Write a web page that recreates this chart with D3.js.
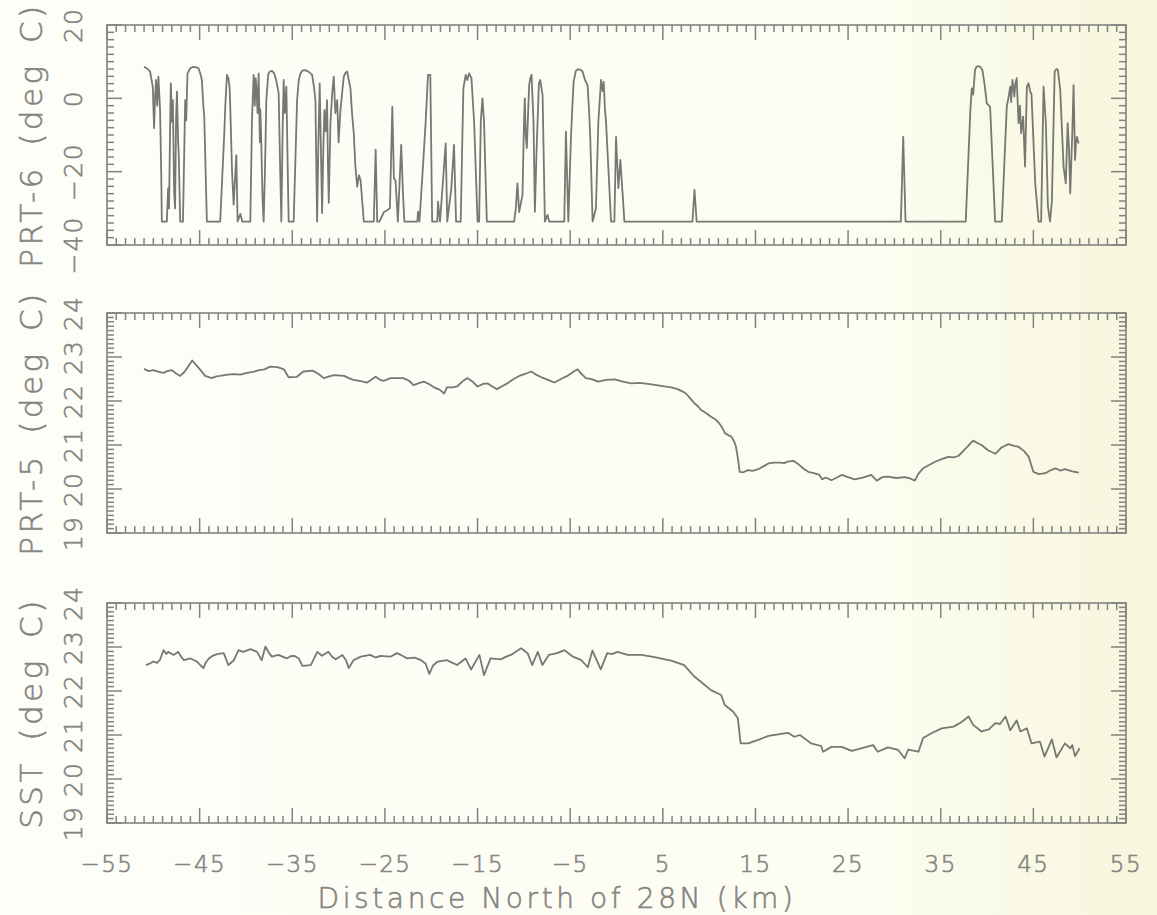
<!DOCTYPE html>
<html>
<head>
<meta charset="utf-8">
<script src="https://cdn.jsdelivr.net/npm/d3@7"></script>
<style>
  html, body { margin: 0; padding: 0; background: #fdfdf5; }
  svg { display: block; }
  text { font-family: "DejaVu Sans", sans-serif; font-weight: 200; fill: #858581;
         stroke: #858581; stroke-width: 0.6px; }
</style>
</head>
<body>
<svg id="chart" width="1157" height="915"></svg>
<script>
// distance axis, km north of 28N
const xMajorTicks = [-55, -45, -35, -25, -15, -5, 5, 15, 25, 35, 45, 55]
const xTickLabels = ['−55', '−45', '−35', '−25', '−15', '−5', '5', '15', '25', '35', '45', '55']

// PRT-6 radiometer (sky), deg C, [km, value]
const prt6 = [
  [-51.0, 8.6], [-50.6, 8.0], [-50.35, 7.3], [-50.06, 3.2], [-49.92, -8.1], [-49.8, 1.0], [-49.7, 5.0],
  [-49.58, -2.0], [-49.45, 5.9], [-49.27, -3.2], [-49.15, -20.0], [-49.08, -33.6], [-48.54, -33.6],
  [-48.4, -24.5], [-48.3, -30.0], [-48.2, -10.0], [-48.11, 4.1], [-47.98, -6.4], [-47.89, -0.5],
  [-47.75, -25.8], [-47.65, -30.0], [-47.54, -5.0], [-47.45, 1.8], [-47.32, -12.0], [-47.25, -15.5],
  [-47.1, -33.6], [-46.8, -33.6], [-46.56, -0.5], [-46.45, -6.0], [-46.31, 6.8], [-46.02, 8.2],
  [-45.8, 8.5], [-45.4, 8.5], [-45.12, 8.2], [-44.9, 6.5], [-44.76, 5.0], [-44.6, -2.0], [-44.5, -5.0],
  [-44.22, -33.6], [-42.78, -33.6], [-42.34, -9.5], [-42.23, -2.0], [-42.05, 6.4], [-41.9, 5.5],
  [-41.77, 3.2], [-41.7, -1.8], [-41.5, -20.0], [-41.33, -29.0], [-41.04, -15.5], [-40.9, -33.6],
  [-40.6, -31.5], [-40.4, -33.6], [-39.53, -33.6], [-39.35, -6.0], [-39.17, 6.4], [-39.05, -2.0],
  [-38.95, 5.5], [-38.88, 3.2], [-38.75, -4.0], [-38.63, 6.8], [-38.5, -12.0], [-38.45, -3.0],
  [-38.37, -9.5], [-38.2, -28.0], [-38.09, -33.6], [-37.95, -20.0], [-37.8, -0.5], [-37.6, 6.5],
  [-37.44, 7.3], [-37.2, 7.5], [-36.94, 6.8], [-36.7, 4.5], [-36.47, 1.4], [-36.3, -20.0],
  [-36.18, -33.6], [-36.05, -10.0], [-35.93, 5.0], [-35.8, -4.0], [-35.64, 3.2], [-35.5, -18.0],
  [-35.39, -33.6], [-34.85, -33.6], [-34.48, -0.5], [-34.3, 5.0], [-34.12, 6.8], [-33.9, 7.6],
  [-33.58, 7.7], [-33.2, 7.2], [-32.86, 6.4], [-32.65, 3.0], [-32.5, -0.5], [-32.32, -33.6],
  [-32.18, -12.0], [-32.04, 4.1], [-31.9, -15.0], [-31.78, -31.3], [-31.65, -14.0], [-31.53, -3.2],
  [-31.4, -9.0], [-31.24, -0.5], [-31.15, -18.0], [-31.06, -28.5], [-30.88, -6.8], [-30.7, 1.0],
  [-30.52, 5.9], [-30.35, -4.0], [-30.15, -0.5], [-30.0, -12.0], [-29.8, -3.2], [-29.6, 2.0],
  [-29.44, 5.9], [-29.25, 7.0], [-29.07, 7.3], [-28.9, 5.0], [-28.72, 2.7], [-28.55, -4.0],
  [-28.36, -9.5], [-28.2, -18.0], [-27.99, -24.1], [-27.8, -21.0], [-27.63, -22.3], [-27.45, -28.0],
  [-27.28, -33.6], [-26.2, -33.6], [-26.0, -14.0], [-25.83, -33.6], [-25.6, -33.6], [-25.1, -31.0],
  [-24.75, -30.5], [-24.46, -30.0], [-24.2, -2.3], [-24.03, -21.8], [-23.85, -22.5], [-23.6, -33.6],
  [-23.24, -12.7], [-23.05, -26.0], [-22.9, -33.6], [-21.5, -33.6], [-21.42, -30.9], [-21.27, -33.6],
  [-20.86, -17.3], [-20.6, -6.4], [-20.35, 6.4], [-20.1, 6.4], [-19.9, -33.6], [-19.34, -33.6],
  [-19.27, -28.2], [-19.05, -33.6], [-18.44, -12.3], [-18.27, -33.6], [-17.83, -24.5], [-17.54, -12.7],
  [-17.32, -33.6], [-16.82, -33.6], [-16.53, 2.7], [-16.28, 6.4], [-16.1, 5.0], [-15.92, 6.8],
  [-15.66, 5.5], [-15.37, -6.4], [-15.0, -33.6], [-14.83, -33.6], [-14.65, -6.4], [-14.47, 0.0],
  [-14.3, -6.4], [-14.0, -33.6], [-11.05, -33.6], [-10.87, -30.0], [-10.69, -23.2], [-10.51, -31.0],
  [-10.15, -26.4], [-10.0, -8.0], [-9.9, 0.0], [-9.8, -10.0], [-9.68, -13.6], [-9.43, 3.6],
  [-9.3, 5.5], [-9.17, 6.4], [-8.96, -6.4], [-8.81, -30.9], [-8.65, -16.0], [-8.52, -6.4],
  [-8.38, 4.0], [-8.23, 5.0], [-7.98, 0.9], [-7.73, -33.6], [-7.45, -31.8], [-7.27, -33.6],
  [-5.64, -33.6], [-5.46, -9.1], [-5.2, -33.6], [-4.92, -10.9], [-4.8, -4.0], [-4.63, 4.5],
  [-4.4, 7.4], [-4.2, 7.9], [-3.9, 7.8], [-3.66, 7.3], [-3.4, 5.0], [-3.12, 3.6], [-2.95, -4.0],
  [-2.83, -10.9], [-2.58, -33.6], [-2.22, -30.0], [-1.96, -6.4], [-1.67, 5.0], [-1.5, 2.0],
  [-1.38, 4.5], [-1.25, -3.0], [-1.13, -6.4], [-0.95, -15.5], [-0.59, -33.6], [-0.23, -33.6],
  [-0.05, -10.5], [0.2, -24.5], [0.42, -16.8], [0.55, -22.0], [0.67, -26.4], [0.85, -33.6],
  [8.2, -33.6], [8.42, -25.0], [8.65, -33.6], [30.7, -33.6], [30.95, -10.5], [31.2, -33.6],
  [37.7, -33.6], [38.2, -3.2], [38.35, 2.7], [38.5, 1.0], [38.7, 7.7], [38.85, 8.6], [39.07, 8.8],
  [39.3, 8.5], [39.5, 7.7], [39.72, 4.1], [39.97, -1.4], [40.33, -2.3], [40.87, -33.6], [41.6, -33.6],
  [42.13, -2.3], [42.3, 0.0], [42.5, 3.2], [42.6, -1.0], [42.74, 5.0], [42.95, 0.5], [43.05, 4.0],
  [43.2, 5.5], [43.4, -6.8], [43.55, -2.0], [43.68, -9.5], [43.9, -5.0], [44.1, -18.6], [44.3, 3.2],
  [44.47, 4.1], [44.65, 2.0], [44.8, 1.0], [45.2, -23.2], [45.56, -33.6], [45.84, -33.6], [46.1, 3.2],
  [46.35, -6.8], [46.57, -29.5], [46.8, -33.6], [47.0, -28.0], [47.3, 7.3], [47.5, 8.0], [47.65, 7.7],
  [47.9, 2.3], [48.26, -18.6], [48.5, -23.2], [48.7, -6.8], [48.85, -14.0], [48.98, -25.9], [49.2, -9.5],
  [49.34, 3.6], [49.5, -16.8], [49.6, -12.0], [49.7, -10.5], [49.88, -12.3]
]

// PRT-5 radiometer, deg C
const prt5 = [
  [-51.0, 22.73], [-50.5, 22.68], [-50.0, 22.70], [-49.4, 22.66], [-48.9, 22.64], [-48.5, 22.68],
  [-48.0, 22.70], [-47.5, 22.62], [-47.1, 22.57], [-46.6, 22.67], [-45.8, 22.92], [-45.3, 22.80],
  [-44.9, 22.70], [-44.4, 22.57], [-43.7, 22.52], [-43.2, 22.56], [-42.8, 22.57], [-42.0, 22.60],
  [-41.3, 22.61], [-40.6, 22.60], [-39.9, 22.64], [-39.2, 22.66], [-38.6, 22.70], [-38.0, 22.72],
  [-37.4, 22.78], [-36.6, 22.77], [-35.9, 22.72], [-35.4, 22.54], [-34.5, 22.55], [-33.8, 22.67],
  [-32.8, 22.69], [-32.2, 22.62], [-31.6, 22.52], [-31.0, 22.56], [-30.5, 22.59], [-29.4, 22.57],
  [-28.9, 22.52], [-28.4, 22.48], [-27.6, 22.45], [-26.9, 22.42], [-26.0, 22.55], [-25.5, 22.48],
  [-25.1, 22.46], [-24.4, 22.52], [-23.7, 22.52], [-23.0, 22.52], [-22.4, 22.46], [-21.9, 22.36],
  [-21.4, 22.40], [-20.8, 22.44], [-20.2, 22.38], [-19.7, 22.31], [-19.1, 22.26], [-18.6, 22.17],
  [-18.3, 22.31], [-17.7, 22.31], [-17.2, 22.33], [-16.6, 22.45], [-16.1, 22.52], [-15.6, 22.45],
  [-15.0, 22.33], [-14.4, 22.39], [-13.9, 22.40], [-13.4, 22.33], [-12.9, 22.27], [-12.3, 22.34],
  [-11.8, 22.40], [-11.1, 22.50], [-10.5, 22.57], [-9.8, 22.62], [-9.2, 22.67], [-8.7, 22.60],
  [-8.2, 22.55], [-7.4, 22.48], [-6.7, 22.42], [-6.0, 22.50], [-5.3, 22.57], [-4.7, 22.66],
  [-4.2, 22.72], [-3.7, 22.60], [-3.3, 22.52], [-2.6, 22.49], [-2.0, 22.44], [-1.1, 22.48],
  [-0.2, 22.49], [0.7, 22.44], [1.6, 22.40], [2.5, 22.41], [3.4, 22.39], [4.3, 22.36], [5.2, 22.33],
  [5.9, 22.31], [6.6, 22.27], [7.1, 22.22], [7.5, 22.17], [8.0, 22.05], [8.4, 21.95], [8.8, 21.88],
  [9.1, 21.80], [9.7, 21.72], [10.2, 21.64], [10.7, 21.58], [11.1, 21.49], [11.4, 21.40], [11.7, 21.27],
  [12.1, 21.22], [12.4, 21.19], [12.7, 21.08], [12.9, 20.96], [13.1, 20.70], [13.3, 20.39], [13.7, 20.38],
  [14.2, 20.43], [14.7, 20.41], [15.3, 20.45], [15.9, 20.52], [16.4, 20.58], [17.0, 20.60], [17.6, 20.60],
  [18.1, 20.59], [18.5, 20.62], [19.1, 20.64], [19.6, 20.57], [20.2, 20.46], [20.7, 20.39], [21.3, 20.36],
  [21.9, 20.32], [22.2, 20.22], [22.6, 20.26], [23.2, 20.20], [23.8, 20.26], [24.3, 20.32], [25.0, 20.27],
  [25.7, 20.22], [26.6, 20.26], [27.5, 20.32], [28.1, 20.19], [28.7, 20.27], [29.3, 20.28], [30.2, 20.25],
  [31.1, 20.27], [31.7, 20.24], [32.2, 20.19], [32.6, 20.35], [33.1, 20.47], [33.8, 20.55], [34.4, 20.62],
  [35.1, 20.68], [35.8, 20.73], [36.4, 20.72], [36.9, 20.75], [37.6, 20.90], [38.5, 21.10], [39.0, 21.04],
  [39.4, 21.00], [40.1, 20.88], [40.9, 20.80], [41.6, 20.95], [42.3, 21.02], [42.9, 20.98], [43.4, 20.96],
  [44.0, 20.86], [44.5, 20.73], [45.0, 20.39], [45.6, 20.34], [46.3, 20.36], [46.8, 20.42], [47.4, 20.47],
  [47.9, 20.42], [48.4, 20.45], [49.2, 20.40], [49.9, 20.37]
]

// sea surface temperature, deg C
const sst = [
  [-50.8, 22.59], [-50.4, 22.62], [-50.0, 22.67], [-49.6, 22.64], [-49.3, 22.70], [-48.9, 22.93],
  [-48.6, 22.84], [-48.4, 22.89], [-47.8, 22.82], [-47.3, 22.89], [-47.0, 22.78], [-46.7, 22.70],
  [-46.0, 22.74], [-45.3, 22.67], [-44.6, 22.52], [-44.3, 22.66], [-44.0, 22.74], [-43.6, 22.80],
  [-43.1, 22.84], [-42.4, 22.86], [-41.9, 22.59], [-41.3, 22.70], [-40.8, 22.93], [-40.3, 22.89],
  [-39.5, 22.95], [-38.8, 22.89], [-38.3, 22.70], [-37.9, 23.01], [-37.5, 22.86], [-37.2, 22.78],
  [-36.5, 22.82], [-35.6, 22.74], [-35.2, 22.79], [-34.8, 22.80], [-34.3, 22.74], [-33.9, 22.57],
  [-33.0, 22.59], [-32.6, 22.76], [-32.3, 22.89], [-31.8, 22.80], [-31.1, 22.89], [-30.7, 22.78],
  [-30.3, 22.72], [-29.6, 22.82], [-29.2, 22.70], [-28.9, 22.52], [-28.4, 22.70], [-27.6, 22.78],
  [-26.6, 22.82], [-26.0, 22.76], [-25.5, 22.80], [-24.4, 22.78], [-23.7, 22.86], [-23.1, 22.80],
  [-22.6, 22.74], [-21.8, 22.76], [-21.1, 22.70], [-20.6, 22.62], [-20.2, 22.39], [-19.8, 22.58],
  [-19.3, 22.67], [-18.3, 22.70], [-17.7, 22.64], [-17.2, 22.59], [-16.3, 22.74], [-15.7, 22.49],
  [-14.8, 22.82], [-14.3, 22.36], [-13.6, 22.74], [-12.5, 22.72], [-11.9, 22.78], [-11.4, 22.82],
  [-10.3, 22.97], [-9.6, 22.86], [-9.1, 22.59], [-8.5, 22.89], [-8.0, 22.59], [-7.3, 22.82],
  [-6.4, 22.86], [-5.6, 22.93], [-5.1, 22.84], [-4.7, 22.78], [-3.8, 22.70], [-3.1, 22.54],
  [-2.6, 22.92], [-1.7, 22.49], [-1.0, 22.86], [-0.5, 22.84], [0.1, 22.89], [1.2, 22.82], [2.7, 22.82],
  [4.1, 22.77], [5.9, 22.69], [7.3, 22.59], [8.4, 22.33], [9.1, 22.21], [10.2, 22.02], [11.3, 21.91],
  [11.7, 21.68], [12.6, 21.53], [13.1, 21.38], [13.4, 20.81], [14.2, 20.81], [15.3, 20.89],
  [16.4, 20.98], [17.6, 21.02], [18.5, 21.05], [19.2, 20.96], [19.8, 21.00], [21.0, 20.81],
  [22.1, 20.75], [22.3, 20.62], [23.2, 20.73], [24.3, 20.73], [25.4, 20.64], [26.5, 20.70],
  [27.7, 20.77], [28.2, 20.62], [29.3, 20.72], [30.4, 20.66], [31.1, 20.47], [31.5, 20.67],
  [32.6, 20.62], [33.1, 20.93], [34.0, 21.04], [35.1, 21.15], [36.4, 21.19], [37.3, 21.30],
  [38.0, 21.42], [38.5, 21.23], [39.4, 21.08], [40.2, 21.13], [40.9, 21.27], [41.4, 21.25],
  [42.0, 21.42], [42.5, 21.11], [43.2, 21.33], [43.6, 21.08], [44.3, 21.15], [44.8, 20.81],
  [45.7, 20.85], [46.2, 20.51], [47.0, 20.90], [47.5, 20.49], [48.4, 20.81], [49.0, 20.70],
  [49.2, 20.77], [49.5, 20.52], [50.0, 20.70]
]

const panels = [
  { label: 'PRT-6 (deg C)', data: prt6, domain: [-40, 20], major: [-40, -20, 0, 20], minorStep: 2,
    tickLabels: ['−40', '−20', '0', '20'], top: 25, bottom: 245 },
  { label: 'PRT-5 (deg C)', data: prt5, domain: [19, 24], major: [19, 20, 21, 22, 23, 24], minorStep: 0.1,
    tickLabels: ['19', '20', '21', '22', '23', '24'], top: 313, bottom: 533 },
  { label: 'SST (deg C)', data: sst, domain: [19, 24], major: [19, 20, 21, 22, 23, 24], minorStep: 0.1,
    tickLabels: ['19', '20', '21', '22', '23', '24'], top: 603, bottom: 823 }
]

const INK = '#828280'
const LINE = '#777773'
const MAJOR = 15, MINOR = 7

let svg = d3.select('#chart')

// faint yellowing of the scanned page towards the right edge
let grad = svg.append('defs').append('linearGradient').attr('id', 'paper')
grad.append('stop').attr('offset', '0%').attr('stop-color', '#fefef9')
grad.append('stop').attr('offset', '75%').attr('stop-color', '#fcfcf1')
grad.append('stop').attr('offset', '100%').attr('stop-color', '#f7f7dd')
svg.append('rect').attr('width', 1157).attr('height', 915).attr('fill', 'url(#paper)')

let x = d3.scaleLinear().domain([-55, 55]).range([107, 1126])
let xMinor = d3.range(-55, 56, 1).filter(v => !xMajorTicks.includes(v))

// inward tick marks along one edge of a frame
function edgeTicks(g, values, scale, side, at, len) {
  let horiz = side === 'top' || side === 'bottom'
  let dir = side === 'top' || side === 'left' ? 1 : -1
  g.append('g').selectAll('line').data(values)
    .join('line')
    .attr(horiz ? 'x1' : 'y1', d => scale(d))
    .attr(horiz ? 'x2' : 'y2', d => scale(d))
    .attr(horiz ? 'y1' : 'x1', at)
    .attr(horiz ? 'y2' : 'x2', at + dir * len)
    .attr('stroke', INK).attr('stroke-width', 1.5)
}

panels.forEach((p, i) => {
  let y = d3.scaleLinear().domain(p.domain).range([p.bottom, p.top])
  let yMinor = d3.range(Math.round((p.domain[1] - p.domain[0]) / p.minorStep) + 1)
    .map(k => +(p.domain[0] + k * p.minorStep).toFixed(2))
    .filter(v => !p.major.includes(v))
  let g = svg.append('g').attr('class', 'panel')

  let [x0, x1] = x.range()
  edgeTicks(g, xMinor, x, 'top', p.top, MINOR)
  edgeTicks(g, xMajorTicks, x, 'top', p.top, MAJOR)
  edgeTicks(g, xMinor, x, 'bottom', p.bottom, MINOR)
  edgeTicks(g, xMajorTicks, x, 'bottom', p.bottom, MAJOR)
  edgeTicks(g, yMinor, y, 'left', x0, MINOR)
  edgeTicks(g, p.major, y, 'left', x0, MAJOR)
  edgeTicks(g, yMinor, y, 'right', x1, MINOR)
  edgeTicks(g, p.major, y, 'right', x1, MAJOR)

  g.append('rect')
    .attr('x', x0).attr('y', p.top)
    .attr('width', x1 - x0).attr('height', p.bottom - p.top)
    .attr('fill', 'none').attr('stroke', INK).attr('stroke-width', 1.6)

  let line = d3.line().x(d => x(d[0])).y(d => y(d[1]))
  g.append('path').datum(p.data)
    .attr('d', line)
    .attr('fill', 'none').attr('stroke', LINE).attr('stroke-width', 1.8)
    .attr('stroke-linejoin', 'round')

  // rotated y tick labels
  g.selectAll('.ylab').data(p.major)
    .join('text')
    .attr('class', 'ylab')
    .attr('transform', d => `translate(82,${y(d)}) rotate(-90)`)
    .attr('text-anchor', 'middle')
    .style('font-size', '25px')
    .style('letter-spacing', '2px')
    .text((d, k) => p.tickLabels[k])

  g.append('text')
    .attr('transform', `translate(42,${(p.top + p.bottom) / 2}) rotate(-90)`)
    .attr('text-anchor', 'middle')
    .style('font-size', '31px')
    .style('letter-spacing', '3.5px')
    .style('word-spacing', '6px')
    .text(p.label)

  if (i === panels.length - 1) {
    g.selectAll('.xlab').data(xMajorTicks)
      .join('text')
      .attr('class', 'xlab')
      .attr('x', d => x(d))
      .attr('y', p.bottom + 49)
      .attr('text-anchor', 'middle')
      .style('font-size', '23px')
      .style('letter-spacing', '1.5px')
      .text((d, k) => xTickLabels[k])
  }
})

svg.append('text')
  .attr('x', 557)
  .attr('y', 908)
  .attr('text-anchor', 'middle')
  .style('font-size', '28px')
  .style('letter-spacing', '3.6px')
  .text('Distance North of 28N (km)')
</script>
</body>
</html>
